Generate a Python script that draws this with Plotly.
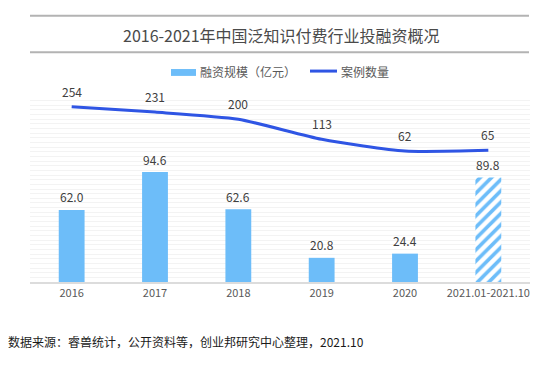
import plotly.graph_objects as go

categories = ["2016", "2017", "2018", "2019", "2020", "2021.01-2021.10"]
tick_labels = ["2016", "2017", "2018", "2019", "2020", "2021.01-2021.10"]
funding = [62.0, 94.6, 62.6, 20.8, 24.4, 89.8]
funding_text = ["62.0", "94.6", "62.6", "20.8", "24.4", "89.8"]
cases = [254, 231, 200, 113, 62, 65]

title_text = "2016-2021年中国泛知识付费行业投融资概况"
legend_bar = "融资规模（亿元）"
legend_line = "案例数量"
source_text = "数据来源：睿兽统计，公开资料等，创业邦研究中心整理，2021.10"

BAR = "#6dbdf9"
LINE = "#2f55e4"
FONT = "Noto Sans CJK SC, Microsoft YaHei, sans-serif"

x_idx = list(range(len(categories)))

fig = go.Figure()
fig.add_trace(go.Bar(
    x=x_idx[:-1], y=funding[:-1], width=0.31,
    marker=dict(color=BAR, line=dict(width=0)),
    showlegend=False, hoverinfo="skip",
))
fig.add_trace(go.Bar(
    x=x_idx[-1:], y=funding[-1:], width=0.31,
    marker=dict(color="white", line=dict(width=0),
                pattern=dict(shape="/", fgcolor=BAR, bgcolor="white",
                             size=8, solidity=0.45, fillmode="replace")),
    showlegend=False, hoverinfo="skip",
))
fig.add_trace(go.Scatter(
    x=x_idx, y=cases, yaxis="y2", mode="lines",
    line=dict(color=LINE, width=3, shape="spline", smoothing=0.6),
    showlegend=False, hoverinfo="skip",
))

annotations = []
for i, (v, t) in enumerate(zip(funding, funding_text)):
    annotations.append(dict(x=i, y=v, xref="x", yref="y", text=t, showarrow=False,
                            yshift=13, font=dict(size=12, color="#404040", family=FONT)))
for i, v in enumerate(cases):
    annotations.append(dict(x=i, y=v, xref="x", yref="y2", text=str(v), showarrow=False,
                            yshift=15.5, font=dict(size=12, color="#404040", family=FONT)))

annotations.append(dict(x=0.502, y=1.328, xref="paper", yref="paper", text=title_text,
                        showarrow=False, xanchor="center", yanchor="middle",
                        font=dict(size=16, color="#4a4a4a", family=FONT)))
annotations.append(dict(x=0.336, y=1.132, xref="paper", yref="paper", text=legend_bar,
                        showarrow=False, xanchor="left", yanchor="middle",
                        font=dict(size=12, color="#595959", family=FONT)))
annotations.append(dict(x=0.618, y=1.132, xref="paper", yref="paper", text=legend_line,
                        showarrow=False, xanchor="left", yanchor="middle",
                        font=dict(size=12, color="#595959", family=FONT)))
annotations.append(dict(x=-0.048, y=-0.321, xref="paper", yref="paper", text=source_text,
                        showarrow=False, xanchor="left", yanchor="middle",
                        font=dict(size=12, color="#1a1a1a", family=FONT)))

shapes = [
    dict(type="line", xref="paper", yref="paper", x0=0, x1=0.998, y0=1.432, y1=1.432,
         line=dict(color="#b3b3b3", width=2)),
    dict(type="line", xref="paper", yref="paper", x0=0, x1=0.998, y0=1.235, y1=1.235,
         line=dict(color="#b3b3b3", width=2)),
    dict(type="rect", xref="paper", yref="paper", x0=0.282, x1=0.332, y0=1.108, y1=1.145,
         fillcolor=BAR, line=dict(width=0)),
    dict(type="line", xref="paper", yref="paper", x0=0.56, x1=0.614, y0=1.134, y1=1.134,
         line=dict(color=LINE, width=3)),
]

# page body has an 8px default margin, so the figure is 8px smaller on each axis
fig.update_layout(
    width=540, height=363,
    margin=dict(l=22, r=18, t=88, b=89),
    paper_bgcolor="white", plot_bgcolor="white",
    barmode="overlay",
    showlegend=False,
    font=dict(family=FONT),
    xaxis=dict(
        range=[-0.5, 5.5], tickmode="array", tickvals=x_idx, ticktext=tick_labels,
        showgrid=False, zeroline=False, showline=True, linecolor="#dcdcdc", linewidth=2,
        ticks="", tickfont=dict(size=11, color="#595959", family=FONT),
    ),
    yaxis=dict(
        range=[0, 160], dtick=4, showgrid=True, gridcolor="#f3f3f3", gridwidth=1,
        showticklabels=False, zeroline=False, showline=False, ticks="",
    ),
    yaxis2=dict(
        range=[-507, 301], overlaying="y", side="right", showgrid=False,
        showticklabels=False, zeroline=False, showline=False, ticks="",
    ),
    annotations=annotations,
    shapes=shapes,
)

fig.write_html("out.html")
